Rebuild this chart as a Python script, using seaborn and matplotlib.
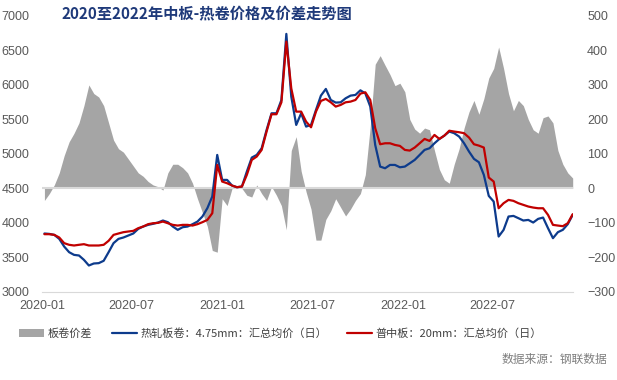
import pandas as pd
import seaborn as sns
import matplotlib
matplotlib.use("Agg")
import matplotlib.pyplot as plt
import matplotlib.dates as mdates

sns.set_style("white")
plt.rcParams['font.family'] = ['Liberation Sans', 'Noto Sans CJK SC']

# 10-day samples
dates = pd.date_range("2020-01-06", periods=108, freq="10D")

hrc = [3846, 3840, 3826, 3768, 3657, 3575, 3536, 3527, 3464, 3382,
       3411, 3416, 3450, 3575, 3706, 3768, 3788, 3817, 3846, 3913,
       3947, 3971, 3986, 4005, 4034, 4010, 3947, 3899, 3937, 3947,
       3981, 4019, 4092, 4213, 4382, 4985, 4623, 4623, 4541, 4517,
       4527, 4744, 4947, 4985, 5082, 5348, 5589, 5589, 5782, 6740,
       5830, 5420, 5589, 5396,
       5420, 5637, 5845, 5942, 5782, 5744, 5748, 5806, 5845, 5855,
       5922, 5877, 5686, 5130, 4816, 4792, 4840, 4840, 4806, 4816,
       4864, 4913, 4985, 5058, 5082, 5154, 5217, 5265, 5324, 5300,
       5251, 5154, 5034, 4928, 4879, 4696, 4391, 4309, 3802, 3898,
       4092, 4101, 4068, 4034, 4043, 4005, 4058, 4077, 3923, 3778,
       3865, 3899, 3981, 4116]

plate = [3836, 3836, 3826, 3788, 3706, 3682, 3672, 3682, 3691, 3672,
         3672, 3672, 3682, 3740, 3826, 3846, 3865, 3875, 3884, 3923,
         3947, 3981, 3995, 4000, 4019, 3995, 3971, 3961, 3971, 3971,
         3961, 3981, 4010, 4043, 4140, 4840, 4599, 4575, 4541, 4517,
         4527, 4696, 4913, 4961, 5058, 5324, 5575, 5575, 5748, 6628,
         5950, 5613, 5613, 5468,
         5386, 5613, 5768, 5797, 5748, 5686, 5710, 5748, 5758, 5782,
         5874, 5893, 5782, 5372, 5140, 5154, 5154, 5130, 5116, 5058,
         5048, 5092, 5154, 5217, 5188, 5275, 5217, 5265, 5336, 5324,
         5314, 5300, 5237, 5140, 5120, 5092, 4657, 4599, 4212, 4285,
         4333, 4319, 4285, 4261, 4237, 4222, 4212, 4212, 4116, 3971,
         3961, 3952, 3995, 4126]

spread = [-35, -15, 10, 45, 95, 135, 160, 190, 240, 300,
          275, 265, 240, 190, 140, 115, 105, 85, 65, 45,
          35, 20, 10, 5, -5, 45, 70, 70, 60, 45,
          15, -30, -70, -110, -180, -185, -30, -50, 0, 5,
          0, -20, -25, 10, -15, -35, 5, -20, -50, -120,
          110, 150, 50, -10,
          -60, -150, -150, -90, -65, -30, -55, -80, -60, -35,
          -15, 40, 180, 360, 385, 357, 330, 298, 305, 280,
          200, 172, 160, 175, 170, 110, 55, 25, 15, 70,
          115, 175, 222, 255, 215, 260, 320, 348, 410, 348,
          275, 225, 255, 240, 200, 170, 160, 205, 210, 190,
          110, 70, 45, 30]

labels = ["板卷价差", "热轧板卷：4.75mm：汇总均价（日）", "普中板：20mm：汇总均价（日）"]
title = "2020至2022年中板-热卷价格及价差走势图"
source = "数据来源：钢联数据"

df = pd.DataFrame({"date": dates, "hrc": hrc, "plate": plate, "spread": spread})

fig = plt.figure(figsize=(6.17, 3.80), dpi=100)
ax = fig.add_axes([0.068, 0.232, 0.861, 0.726])
ax2 = ax.twinx()

ax2.fill_between(df["date"], 0, df["spread"], color="#a5a5a5", lw=0, label=labels[0])
ax2.axhline(0, color="#d9d9d9", lw=1.5)
sns.lineplot(data=df, x="date", y="hrc", ax=ax, color="#0d3b8c", lw=1.6, label=labels[1])
sns.lineplot(data=df, x="date", y="plate", ax=ax, color="#c00000", lw=1.6, label=labels[2])

ax.set_zorder(ax2.get_zorder() + 1)
ax.patch.set_visible(False)

ax.set_ylim(3000, 7000)
ax.set_yticks(range(3000, 7001, 500))
ax2.set_ylim(-300, 500)
ax2.set_yticks(range(-300, 501, 100))
ax.set_xlim(pd.Timestamp("2020-01-01"), pd.Timestamp("2022-12-12"))
ax.set_xticks(pd.to_datetime(["2020-01-01", "2020-07-01", "2021-01-01",
                              "2021-07-01", "2022-01-01", "2022-07-01"]))
ax.xaxis.set_major_formatter(mdates.DateFormatter("%Y-%m"))
ax.set_xlabel("")
ax.set_ylabel("")

for a in (ax, ax2):
    for s in a.spines.values():
        s.set_visible(False)
    a.tick_params(axis="y", length=0, labelsize=9, labelcolor="#595959")
ax.spines["bottom"].set_visible(True)
ax.spines["bottom"].set_color("#d9d9d9")
ax.tick_params(axis="y", pad=9)
ax2.tick_params(axis="y", pad=10)
ax.tick_params(axis="x", length=4, direction="inout", color="#d9d9d9",
               labelsize=9, labelcolor="#595959", pad=4)
if ax.legend_:
    ax.legend_.remove()

h1, l1 = ax2.get_legend_handles_labels()
h2, l2 = ax.get_legend_handles_labels()
fig.legend(h1 + h2, l1 + l2, loc="center left", bbox_to_anchor=(0.015, 0.123),
           ncol=3, frameon=False, handlelength=2.2, columnspacing=1.8,
           handletextpad=0.35, prop={"family": "Noto Sans CJK SC", "size": 8},
           labelcolor="#404040")

fig.text(0.1, 0.965, title, fontsize=11, fontweight="bold", color="#1f3a7a",
         family="Noto Sans CJK SC", va="center")
fig.text(0.985, 0.053, source, fontsize=8.5, color="#7f7f7f",
         family="Noto Sans CJK SC", ha="right", va="center")

fig.savefig("out.png", dpi=100)
